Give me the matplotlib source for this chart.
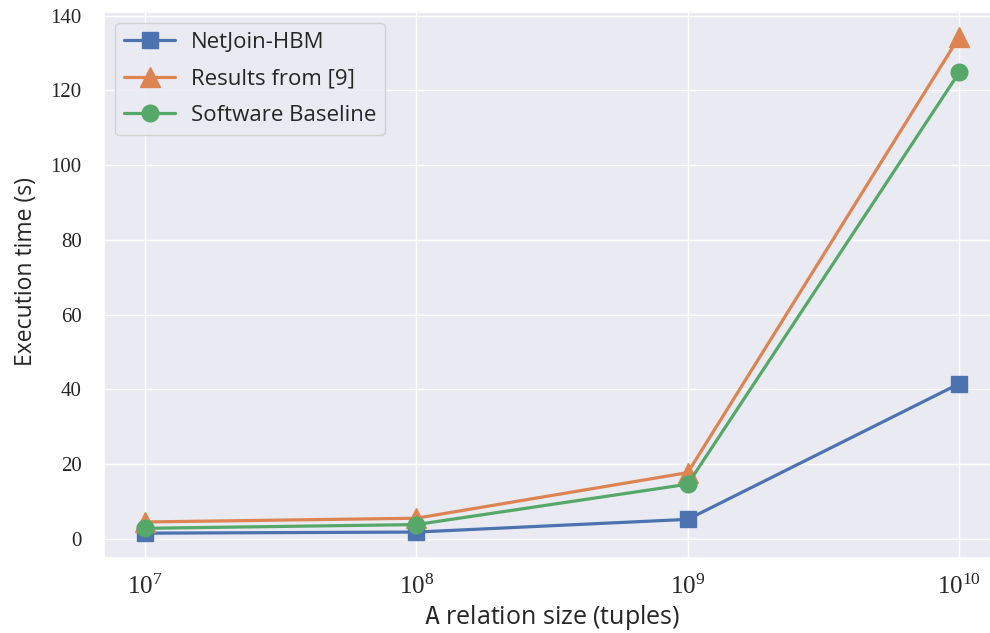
import numpy as np
import matplotlib.pyplot as plt
import seaborn as sns

sns.set_theme(style="darkgrid")
plt.rcParams['font.family'] = ['Open Sans', 'DejaVu Sans']
plt.rcParams['mathtext.fontset'] = 'custom'
plt.rcParams['mathtext.rm'] = 'Liberation Serif'
plt.rcParams['mathtext.tt'] = 'DejaVu Sans Mono'

# relation sizes and runtimes (seconds)
sizes = [1e7, 1e8, 1e9, 1e10]
netjoin_hbm = [1.5, 1.8, 5.2, 41.5]
results_9 = [4.5, 5.5, 17.7, 134.3]
sw_baseline = [2.8, 3.8, 14.6, 124.8]

fig = plt.figure(figsize=(9.9, 6.33), dpi=100)
ax = fig.add_axes([104 / 990, 75 / 633, 896 / 990, 546 / 633])

pal = sns.color_palette("deep")
ax.plot(sizes, netjoin_hbm, marker='s', color=pal[0], lw=2.3, ms=12, label='NetJoin-HBM')
ax.plot(sizes, results_9, marker='^', color=pal[1], lw=2.3, ms=15, label='Results from [9]')
ax.plot(sizes, sw_baseline, marker='o', color=pal[2], lw=2.3, ms=12, label='Software Baseline')
ax.set_xscale('log')
ax.minorticks_off()

ax.set_yticks(np.arange(0, 141, 20))
ax.tick_params(labelfontfamily='Liberation Serif')
ax.tick_params(axis='y', labelsize=15, pad=10)
ax.tick_params(axis='x', labelsize=18, pad=6)

ax.set_ylabel('Execution time (s)', fontsize=16.5)
ax.yaxis.set_label_coords(-0.0737, 0.524)
ax.set_xlabel(r'$\mathtt{A}$ relation size (tuples)', fontsize=18, labelpad=3)

ax.legend(loc='upper left', fontsize=16, handlelength=2.3, borderaxespad=0.5,
          labelspacing=0.7, handletextpad=0.7)

fig.savefig('out.png', dpi=100)
